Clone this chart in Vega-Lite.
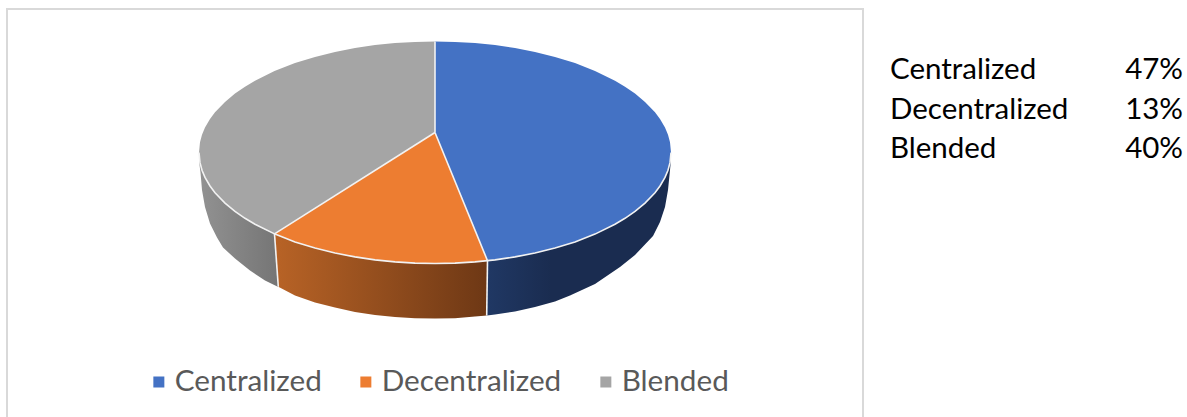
{
  "$schema": "https://vega.github.io/schema/vega-lite/v6.json",
  "width": 1187,
  "height": 417,
  "padding": 0,
  "autosize": {"type": "fit", "contains": "padding"},
  "background": "white",
  "view": {"stroke": null},
  "datasets": {
    "frame": [{"x": -428, "x2": 428, "y": 143.5, "y2": -300}],
    "topFace": [
      {"slice": "Centralized", "x": 0, "top": 111, "bottom": 20},
      {"slice": "Centralized", "x": 20, "top": 110.6, "bottom": -28.8},
      {"slice": "Centralized", "x": 40, "top": 109.4, "bottom": -77.7},
      {"slice": "Centralized", "x": 52.5, "top": 108.2, "bottom": -108.2},
      {"slice": "Centralized", "x": 60, "top": 107.4, "bottom": -107.4},
      {"slice": "Centralized", "x": 80, "top": 104.4, "bottom": -104.4},
      {"slice": "Centralized", "x": 100, "top": 100.5, "bottom": -100.5},
      {"slice": "Centralized", "x": 120, "top": 95.6, "bottom": -95.6},
      {"slice": "Centralized", "x": 140, "top": 89.4, "bottom": -89.4},
      {"slice": "Centralized", "x": 160, "top": 81.6, "bottom": -81.6},
      {"slice": "Centralized", "x": 180, "top": 71.8, "bottom": -71.8},
      {"slice": "Centralized", "x": 190, "top": 65.8, "bottom": -65.8},
      {"slice": "Centralized", "x": 200, "top": 58.9, "bottom": -58.9},
      {"slice": "Centralized", "x": 210, "top": 50.6, "bottom": -50.6},
      {"slice": "Centralized", "x": 220, "top": 40.2, "bottom": -40.2},
      {"slice": "Centralized", "x": 225, "top": 33.5, "bottom": -33.5},
      {"slice": "Centralized", "x": 230, "top": 24.9, "bottom": -24.9},
      {"slice": "Centralized", "x": 233, "top": 17.7, "bottom": -17.7},
      {"slice": "Centralized", "x": 235, "top": 10.2, "bottom": -10.2},
      {"slice": "Centralized", "x": 236, "top": 0, "bottom": 0},
      {"slice": "Decentralized", "x": -160.5, "top": -81.4, "bottom": -81.4},
      {"slice": "Decentralized", "x": -140, "top": -68.5, "bottom": -89.4},
      {"slice": "Decentralized", "x": -120, "top": -55.8, "bottom": -95.6},
      {"slice": "Decentralized", "x": -100, "top": -43.2, "bottom": -100.5},
      {"slice": "Decentralized", "x": -80, "top": -30.5, "bottom": -104.4},
      {"slice": "Decentralized", "x": -60, "top": -17.9, "bottom": -107.4},
      {"slice": "Decentralized", "x": -40, "top": -5.3, "bottom": -109.4},
      {"slice": "Decentralized", "x": -20, "top": 7.4, "bottom": -110.6},
      {"slice": "Decentralized", "x": 0, "top": 20, "bottom": -111},
      {"slice": "Decentralized", "x": 20, "top": -28.8, "bottom": -110.6},
      {"slice": "Decentralized", "x": 40, "top": -77.7, "bottom": -109.4},
      {"slice": "Decentralized", "x": 52.5, "top": -108.2, "bottom": -108.2},
      {"slice": "Blended", "x": -236, "top": 0, "bottom": 0},
      {"slice": "Blended", "x": -235, "top": 10.2, "bottom": -10.2},
      {"slice": "Blended", "x": -233, "top": 17.7, "bottom": -17.7},
      {"slice": "Blended", "x": -230, "top": 24.9, "bottom": -24.9},
      {"slice": "Blended", "x": -225, "top": 33.5, "bottom": -33.5},
      {"slice": "Blended", "x": -220, "top": 40.2, "bottom": -40.2},
      {"slice": "Blended", "x": -210, "top": 50.6, "bottom": -50.6},
      {"slice": "Blended", "x": -200, "top": 58.9, "bottom": -58.9},
      {"slice": "Blended", "x": -190, "top": 65.8, "bottom": -65.8},
      {"slice": "Blended", "x": -180, "top": 71.8, "bottom": -71.8},
      {"slice": "Blended", "x": -160.5, "top": 81.4, "bottom": -81.4},
      {"slice": "Blended", "x": -140, "top": 89.4, "bottom": -68.5},
      {"slice": "Blended", "x": -120, "top": 95.6, "bottom": -55.8},
      {"slice": "Blended", "x": -100, "top": 100.5, "bottom": -43.2},
      {"slice": "Blended", "x": -80, "top": 104.4, "bottom": -30.5},
      {"slice": "Blended", "x": -60, "top": 107.4, "bottom": -17.9},
      {"slice": "Blended", "x": -40, "top": 109.4, "bottom": -5.3},
      {"slice": "Blended", "x": -20, "top": 110.6, "bottom": 7.4},
      {"slice": "Blended", "x": 0, "top": 111, "bottom": 20}
    ],
    "wall": [
      {"slice": "Blended", "x": -236, "top": 0, "bottom": 0},
      {"slice": "Blended", "x": -235.5, "top": -7, "bottom": -12.5},
      {"slice": "Blended", "x": -234.5, "top": -12.5, "bottom": -20},
      {"slice": "Blended", "x": -233, "top": -17.7, "bottom": -37.5},
      {"slice": "Blended", "x": -230, "top": -24.9, "bottom": -54.5},
      {"slice": "Blended", "x": -225, "top": -33.5, "bottom": -71},
      {"slice": "Blended", "x": -218, "top": -42.5, "bottom": -85},
      {"slice": "Blended", "x": -212, "top": -48.8, "bottom": -95},
      {"slice": "Blended", "x": -200, "top": -58.9, "bottom": -106},
      {"slice": "Blended", "x": -185, "top": -68.9, "bottom": -118},
      {"slice": "Blended", "x": -170, "top": -77, "bottom": -128},
      {"slice": "Blended", "x": -156.7, "top": -83, "bottom": -134.5},
      {"slice": "Decentralized", "x": -160.5, "top": -81.4, "bottom": -85},
      {"slice": "Decentralized", "x": -156.7, "top": -83, "bottom": -134.2},
      {"slice": "Decentralized", "x": -140, "top": -89.4, "bottom": -143},
      {"slice": "Decentralized", "x": -120, "top": -95.6, "bottom": -150},
      {"slice": "Decentralized", "x": -100, "top": -100.5, "bottom": -155},
      {"slice": "Decentralized", "x": -80, "top": -104.4, "bottom": -159.5},
      {"slice": "Decentralized", "x": -60, "top": -107.4, "bottom": -162.5},
      {"slice": "Decentralized", "x": -40, "top": -109.4, "bottom": -164.5},
      {"slice": "Decentralized", "x": -20, "top": -110.6, "bottom": -165.7},
      {"slice": "Decentralized", "x": 0, "top": -111, "bottom": -166},
      {"slice": "Decentralized", "x": 20, "top": -110.6, "bottom": -165.7},
      {"slice": "Decentralized", "x": 40, "top": -109.4, "bottom": -164},
      {"slice": "Decentralized", "x": 52, "top": -108.2, "bottom": -163},
      {"slice": "Centralized", "x": 52, "top": -108.2, "bottom": -163},
      {"slice": "Centralized", "x": 60, "top": -107.4, "bottom": -162},
      {"slice": "Centralized", "x": 80, "top": -104.4, "bottom": -159},
      {"slice": "Centralized", "x": 100, "top": -100.5, "bottom": -154.5},
      {"slice": "Centralized", "x": 120, "top": -95.6, "bottom": -149},
      {"slice": "Centralized", "x": 135, "top": -91, "bottom": -143},
      {"slice": "Centralized", "x": 160, "top": -81.6, "bottom": -131.5},
      {"slice": "Centralized", "x": 185, "top": -68.9, "bottom": -114.5},
      {"slice": "Centralized", "x": 200, "top": -58.9, "bottom": -102.5},
      {"slice": "Centralized", "x": 218, "top": -42.5, "bottom": -83.5},
      {"slice": "Centralized", "x": 225, "top": -33.5, "bottom": -69.5},
      {"slice": "Centralized", "x": 230, "top": -24.9, "bottom": -54.5},
      {"slice": "Centralized", "x": 233, "top": -17.7, "bottom": -37.5},
      {"slice": "Centralized", "x": 235, "top": -10.2, "bottom": -17.5},
      {"slice": "Centralized", "x": 235.5, "top": -7, "bottom": -12.5},
      {"slice": "Centralized", "x": 236, "top": 0, "bottom": 0}
    ],
    "seams": [
      {"seam": "rim", "k": 1, "x": -236, "y": 0},
      {"seam": "rim", "k": 2, "x": -235, "y": -10.2},
      {"seam": "rim", "k": 3, "x": -233, "y": -17.7},
      {"seam": "rim", "k": 4, "x": -230, "y": -24.9},
      {"seam": "rim", "k": 5, "x": -225, "y": -33.5},
      {"seam": "rim", "k": 6, "x": -220, "y": -40.2},
      {"seam": "rim", "k": 7, "x": -210, "y": -50.6},
      {"seam": "rim", "k": 8, "x": -200, "y": -58.9},
      {"seam": "rim", "k": 9, "x": -190, "y": -65.8},
      {"seam": "rim", "k": 10, "x": -180, "y": -71.8},
      {"seam": "rim", "k": 11, "x": -160, "y": -81.6},
      {"seam": "rim", "k": 12, "x": -140, "y": -89.4},
      {"seam": "rim", "k": 13, "x": -120, "y": -95.6},
      {"seam": "rim", "k": 14, "x": -100, "y": -100.5},
      {"seam": "rim", "k": 15, "x": -80, "y": -104.4},
      {"seam": "rim", "k": 16, "x": -60, "y": -107.4},
      {"seam": "rim", "k": 17, "x": -40, "y": -109.4},
      {"seam": "rim", "k": 18, "x": -20, "y": -110.6},
      {"seam": "rim", "k": 19, "x": 0, "y": -111},
      {"seam": "rim", "k": 20, "x": 20, "y": -110.6},
      {"seam": "rim", "k": 21, "x": 40, "y": -109.4},
      {"seam": "rim", "k": 22, "x": 60, "y": -107.4},
      {"seam": "rim", "k": 23, "x": 80, "y": -104.4},
      {"seam": "rim", "k": 24, "x": 100, "y": -100.5},
      {"seam": "rim", "k": 25, "x": 120, "y": -95.6},
      {"seam": "rim", "k": 26, "x": 140, "y": -89.4},
      {"seam": "rim", "k": 27, "x": 160, "y": -81.6},
      {"seam": "rim", "k": 28, "x": 180, "y": -71.8},
      {"seam": "rim", "k": 29, "x": 190, "y": -65.8},
      {"seam": "rim", "k": 30, "x": 200, "y": -58.9},
      {"seam": "rim", "k": 31, "x": 210, "y": -50.6},
      {"seam": "rim", "k": 32, "x": 220, "y": -40.2},
      {"seam": "rim", "k": 33, "x": 225, "y": -33.5},
      {"seam": "rim", "k": 34, "x": 230, "y": -24.9},
      {"seam": "rim", "k": 35, "x": 233, "y": -17.7},
      {"seam": "rim", "k": 36, "x": 235, "y": -10.2},
      {"seam": "rim", "k": 37, "x": 236, "y": 0},
      {"seam": "spokeTop", "k": 1, "x": 0, "y": 111},
      {"seam": "spokeTop", "k": 2, "x": 0, "y": 20},
      {"seam": "spokeRight", "k": 1, "x": 0, "y": 20},
      {"seam": "spokeRight", "k": 2, "x": 52.5, "y": -108.2},
      {"seam": "spokeLeft", "k": 1, "x": 0, "y": 20},
      {"seam": "spokeLeft", "k": 2, "x": -160.5, "y": -81.4},
      {"seam": "wallLeft", "k": 1, "x": -160.5, "y": -81.4},
      {"seam": "wallLeft", "k": 2, "x": -156.7, "y": -134.2},
      {"seam": "wallRight", "k": 1, "x": 52.5, "y": -108.2},
      {"seam": "wallRight", "k": 2, "x": 51.7, "y": -163}
    ],
    "shares": [
      {"label": "Centralized", "share": 0.47},
      {"label": "Decentralized", "share": 0.13},
      {"label": "Blended", "share": 0.40}
    ]
  },
  "layer": [
    {
      "encoding": {
        "x": {"field": "x", "type": "quantitative", "axis": null, "scale": {"domain": [-435, 752], "nice": false, "zero": false}},
        "y": {"field": "top", "type": "quantitative", "axis": null, "scale": {"domain": [-264.5, 152.5], "nice": false, "zero": false}}
      },
      "layer": [
        {
          "data": {"name": "frame"},
          "mark": {"type": "rect", "fill": "white", "fillOpacity": 0, "stroke": "#d9d9d9", "strokeWidth": 2, "clip": true},
          "encoding": {
            "x": {"field": "x", "type": "quantitative"},
            "x2": {"field": "x2"},
            "y": {"field": "y", "type": "quantitative"},
            "y2": {"field": "y2"}
          }
        },
        {
          "data": {"name": "wall"},
          "transform": [{"filter": "datum.slice === 'Blended'"}],
          "mark": {"type": "area", "fill": {"gradient": "linear", "x1": 0, "y1": 0, "x2": 1, "y2": 0, "stops": [{"offset": 0, "color": "#929292"}, {"offset": 1, "color": "#757575"}]}},
          "encoding": {"y2": {"field": "bottom"}}
        },
        {
          "data": {"name": "wall"},
          "transform": [{"filter": "datum.slice === 'Centralized'"}],
          "mark": {"type": "area", "fill": {"gradient": "linear", "x1": 0, "y1": 0, "x2": 1, "y2": 0, "stops": [{"offset": 0, "color": "#203864"}, {"offset": 0.35, "color": "#1a2c50"}, {"offset": 1, "color": "#1a2c50"}]}},
          "encoding": {"y2": {"field": "bottom"}}
        },
        {
          "data": {"name": "wall"},
          "transform": [{"filter": "datum.slice === 'Decentralized'"}],
          "mark": {"type": "area", "fill": {"gradient": "linear", "x1": 0, "y1": 0, "x2": 1, "y2": 0, "stops": [{"offset": 0, "color": "#b86326"}, {"offset": 1, "color": "#6e3815"}]}},
          "encoding": {"y2": {"field": "bottom"}}
        },
        {
          "data": {"name": "topFace"},
          "mark": {"type": "area", "opacity": 1},
          "encoding": {
            "y2": {"field": "bottom"},
            "color": {
              "field": "slice",
              "type": "nominal",
              "scale": {"domain": ["Centralized", "Decentralized", "Blended"], "range": ["#4472c4", "#ed7d31", "#a5a5a5"]},
              "legend": {
                "title": null,
                "orient": "none",
                "legendX": 144,
                "legendY": 364,
                "direction": "horizontal",
                "columns": 3,
                "symbolType": "square",
                "symbolSize": 121,
                "symbolStrokeWidth": 0,
                "symbolOpacity": 1,
                "labelFont": "Lato",
                "labelFontSize": 29.7,
                "labelColor": "#595959",
                "labelOffset": 1,
                "labelLimit": 300,
                "columnPadding": 29,
                "clipHeight": 36
              }
            }
          }
        },
        {
          "data": {"name": "seams"},
          "mark": {"type": "line", "stroke": "#f2f2f2", "strokeWidth": 1.6},
          "encoding": {
            "y": {"field": "y", "type": "quantitative"},
            "detail": {"field": "seam"},
            "order": {"field": "k", "type": "quantitative"}
          }
        }
      ]
    },
    {
      "data": {"name": "shares"},
      "mark": {"type": "text", "align": "left", "baseline": "middle", "font": "Lato", "fontSize": 29.5, "color": "#000000"},
      "encoding": {
        "x": {"datum": 455, "type": "quantitative"},
        "y": {"field": "label", "type": "nominal", "axis": null, "sort": null, "scale": {"type": "point", "padding": 0, "domain": ["Centralized", "Decentralized", "Blended"], "range": [70, 149]}},
        "text": {"field": "label"}
      }
    },
    {
      "data": {"name": "shares"},
      "mark": {"type": "text", "align": "right", "baseline": "middle", "font": "Lato", "fontSize": 29.5, "color": "#000000"},
      "encoding": {
        "x": {"datum": 748, "type": "quantitative"},
        "y": {"field": "label", "type": "nominal", "axis": null, "sort": null, "scale": {"type": "point", "padding": 0, "domain": ["Centralized", "Decentralized", "Blended"], "range": [70, 149]}},
        "text": {"field": "share", "type": "quantitative", "format": ".0%"}
      }
    }
  ],
  "resolve": {"scale": {"y": "independent"}}
}
